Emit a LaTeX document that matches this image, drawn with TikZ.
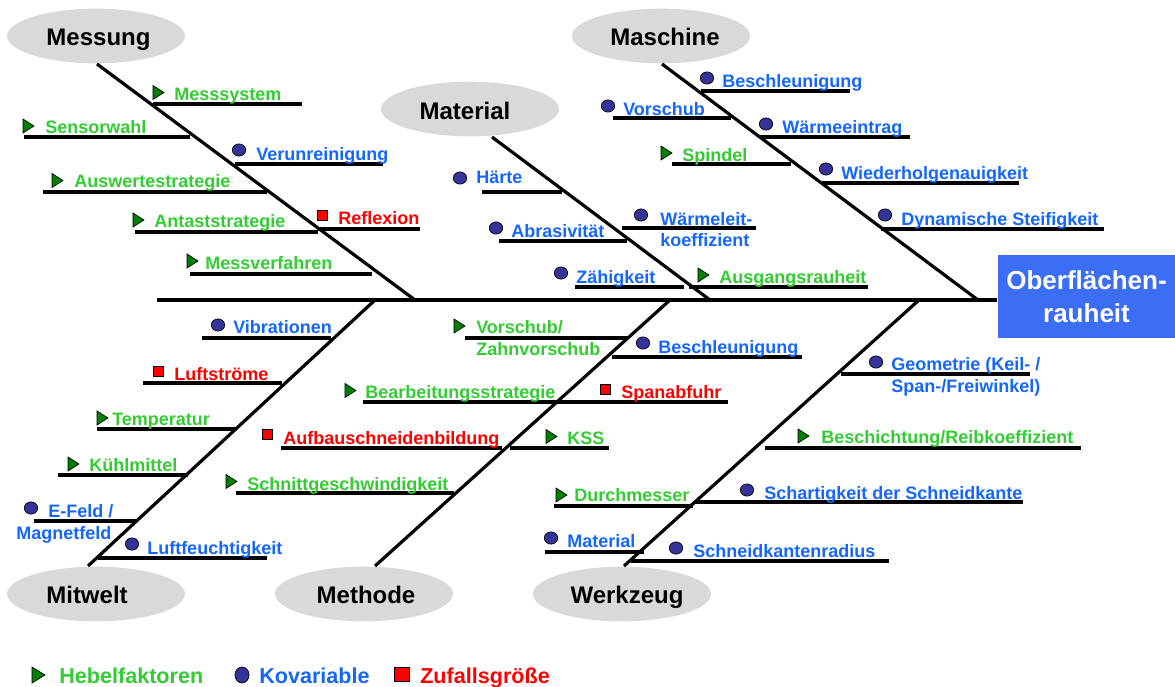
\documentclass[tikz,border=0pt]{standalone}
\usepackage{fontspec}
\setmainfont{Liberation Sans}
\usetikzlibrary{shapes.geometric}
\definecolor{gtext}{RGB}{51,204,51}
\definecolor{btext}{RGB}{20,102,255}
\definecolor{rtext}{RGB}{255,0,0}
\definecolor{trifill}{RGB}{0,128,0}
\definecolor{circfill}{RGB}{51,51,153}
\definecolor{ellfill}{RGB}{217,217,217}
\definecolor{boxfill}{RGB}{60,110,245}
\newcommand\mtri[2]{\draw[mark border,fill=trifill] (#1,#2-7) -- (#1+11,#2) -- (#1,#2+7) -- cycle;}
\newcommand\mcirc[2]{\draw[mark border,fill=circfill] (#1,#2) ellipse [x radius=5pt, y radius=4.6pt];}
\newcommand\msq[2]{\draw[mark border,fill=rtext] (#1,#2) rectangle ++(10,10);}
\tikzset{
  mark border/.style={draw=black,line width=0.5pt},
  bone/.style={draw=black,line width=2.4pt},
  ul/.style={draw=black,line width=2.4pt},
  lab/.style={font=\fontsize{13.5}{16}\selectfont\bfseries,inner sep=0pt,anchor=base west},
  gl/.style={lab,text=gtext},
  bl/.style={lab,text=btext},
  rl/.style={lab,text=rtext},
  ell/.style={ellipse,fill=ellfill,draw=none,minimum width=133.5pt,minimum height=41pt,inner sep=0pt},
  head/.style={font=\fontsize{18}{20}\selectfont\bfseries,inner sep=0pt,anchor=base},
  leg/.style={font=\fontsize{16.2}{18}\selectfont\bfseries,inner sep=0pt,anchor=base west},
}
\begin{document}
\begin{tikzpicture}[x=0.75pt,y=-0.75pt]
\useasboundingbox (0,0) rectangle (1175,686);
% ellipses
\node[ell] (e-mess) at (96,36) {};
\node[ell] (e-masch) at (661,36) {};
\node[ell] (e-mat) at (470,109) {};
\node[ell] (e-mit) at (96,594) {};
\node[ell] (e-meth) at (364,594) {};
\node[ell] (e-werk) at (622,594) {};
\node[head] (h-mess) at (98.5,45.5) {Messung};
\node[head] (h-masch) at (665,45.5) {Maschine};
\node[head] (h-mat) at (465,119) {Material};
\node[head] (h-mit) at (87,603) {Mitwelt};
\node[head] (h-meth) at (366,603) {Methode};
\node[head] (h-werk) at (627,603) {Werkzeug};
% target box
\node[rectangle,fill=boxfill,minimum width=133.5pt,minimum height=62.25pt,inner sep=0pt,
      text=white,align=center,font=\fontsize{19.5}{24.75}\selectfont\bfseries]
      (ziel) at (1086.5,296.5) {Oberflächen-\\rauheit};
% bones
\coordinate (tail) at (157,300);
\coordinate (mess-a) at (97,64);   \coordinate (mess-b) at (415,300);
\coordinate (mat-a) at (492,137);  \coordinate (mat-b) at (710,300);
\coordinate (masch-a) at (662,64); \coordinate (masch-b) at (978,300);
\coordinate (mit-a) at (375,300);  \coordinate (mit-b) at (88,566);
\coordinate (meth-a) at (670,300); \coordinate (meth-b) at (375,566);
\coordinate (werk-a) at (919,300); \coordinate (werk-b) at (624,566);
\draw[bone] (tail) -- (tail -| ziel.west);
\draw[bone] (mess-a) -- (mess-b);
\draw[bone] (mat-a) -- (mat-b);
\draw[bone] (masch-a) -- (masch-b);
\draw[bone] (mit-a) -- (mit-b);
\draw[bone] (meth-a) -- (meth-b);
\draw[bone] (werk-a) -- (werk-b);
% ---- Messung
\draw[ul] (153,104) -- (302,104); \mtri{153}{92.5} \node[gl] (l1) at (174,100.5) {Messsystem};
\draw[ul] (24,137) -- (190,137); \mtri{23}{126} \node[gl] (l2) at (45,133) {Sensorwahl};
\draw[ul] (235,164) -- (383,164); \mcirc{239}{150} \node[bl] (l3) at (256,160.5) {Verunreinigung};
\draw[ul] (43,192) -- (267,192); \mtri{52}{180.5} \node[gl] (l4) at (74,187.5) {Auswertestrategie};
\draw[ul] (135,232) -- (318,232); \mtri{133}{220} \node[gl] (l5) at (154,227.5) {Antaststrategie};
\draw[ul] (318,229) -- (420,229); \msq{317}{210} \node[rl] (l6) at (338,224.5) {Reflexion};
\draw[ul] (190,274) -- (372,274); \mtri{187}{261} \node[gl] (l7) at (205,269.5) {Messverfahren};
% ---- Material
\draw[ul] (482,192) -- (562,192); \mcirc{460}{178} \node[bl] (m1) at (476,183) {Härte};
\draw[ul] (499,241) -- (627,241); \mcirc{496}{228} \node[bl] (m2) at (511,237) {Abrasivität};
\draw[ul] (622,228) -- (756,228); \mcirc{641}{215} \node[bl] (m3) at (660,225) {Wärmeleit-};
\node[bl] (m3b) at (660,246) {koeffizient};
\draw[ul] (575,287) -- (684,287); \mcirc{561}{273} \node[bl] (m4) at (576,283) {Zähigkeit};
\draw[ul] (689,287) -- (868,287); \mtri{698}{275} \node[gl] (m5) at (719,283) {Ausgangsrauheit};
% ---- Maschine
\draw[ul] (701,91) -- (850,91); \mcirc{707}{78} \node[bl] (k1) at (722,87.5) {Beschleunigung};
\draw[ul] (613,118) -- (731,118); \mcirc{608}{106} \node[bl] (k2) at (623,115) {Vorschub};
\draw[ul] (760,137) -- (910,137); \mcirc{766}{124} \node[bl] (k3) at (782,133) {Wärmeeintrag};
\draw[ul] (672,164) -- (791,164); \mtri{661}{153} \node[gl] (k4) at (682,161) {Spindel};
\draw[ul] (821,183) -- (1019,183); \mcirc{826}{169} \node[bl] (k5) at (841,179) {Wiederholgenauigkeit};
\draw[ul] (881,229) -- (1104,229); \mcirc{885}{215} \node[bl] (k6) at (901,225) {Dynamische Steifigkeit};
% ---- Mitwelt
\draw[ul] (202,338) -- (331,338); \mcirc{218}{325} \node[bl] (w1) at (233,333.5) {Vibrationen};
\draw[ul] (143,383) -- (282,383); \msq{153}{366} \node[rl] (w2) at (174,380) {Luftströme};
\draw[ul] (97,429) -- (236,429); \mtri{97}{418} \node[gl] (w3) at (112,425.5) {Temperatur};
\draw[ul] (58,475) -- (188,475); \mtri{68}{464} \node[gl] (w4) at (89,471.5) {Kühlmittel};
\draw[ul] (34,521) -- (137,521); \mcirc{31}{508} \node[bl] (w5) at (48,517) {E-Feld /};
\node[bl] (w5b) at (16,539) {Magnetfeld};
\draw[ul] (98,558) -- (267,558); \mcirc{132}{544} \node[bl] (w6) at (147,554) {Luftfeuchtigkeit};
% ---- Methode
\draw[ul] (465,338) -- (628,338); \mtri{454}{326} \node[gl] (t1) at (476,333.5) {Vorschub/};
\node[gl] (t1b) at (476,355) {Zahnvorschub};
\draw[ul] (612,357) -- (802,357); \mcirc{643}{343} \node[bl] (t2) at (658,353) {Beschleunigung};
\draw[ul] (363,402) -- (560,402); \mtri{345}{390.5} \node[gl] (t3) at (365,398) {Bearbeitungsstrategie};
\draw[ul] (560,402) -- (728,402); \msq{600}{384} \node[rl] (t4) at (621,398) {Spanabfuhr};
\draw[ul] (281,448) -- (502,448); \msq{262}{429} \node[rl] (t5) at (283,444) {Aufbauschneidenbildung};
\draw[ul] (510,448) -- (609,448); \mtri{546}{436.5} \node[gl] (t6) at (567,444) {KSS};
\draw[ul] (236,493) -- (454,493); \mtri{226}{481.5} \node[gl] (t7) at (247,490) {Schnittgeschwindigkeit};
% ---- Werkzeug
\draw[ul] (841,374) -- (1030,374); \mcirc{876}{362} \node[bl] (z1) at (891,370) {Geometrie (Keil- /};
\node[bl] (z1b) at (891,392) {Span-/Freiwinkel)};
\draw[ul] (765,448) -- (1081,448); \mtri{798}{436} \node[gl] (z2) at (821,443.5) {Beschichtung/Reibkoeffizient};
\draw[ul] (554,506) -- (693,506); \mtri{556}{495} \node[gl] (z3) at (574,501) {Durchmesser};
\draw[ul] (695,502) -- (1023,502); \mcirc{747}{490} \node[bl] (z4) at (764,499) {Schartigkeit der Schneidkante};
\draw[ul] (545,552) -- (644,552); \mcirc{551}{538} \node[bl] (z5) at (567,547.5) {Material};
\draw[ul] (631,561) -- (889,561); \mcirc{676}{548} \node[bl] (z6) at (693,557) {Schneidkantenradius};
% ---- legend
\draw[mark border,fill=trifill] (32,667) -- (45,675) -- (32,683) -- cycle;
\node[leg,text=gtext] (lg1) at (59,683) {Hebelfaktoren};
\draw[mark border,fill=circfill] (242,675) ellipse [x radius=5.3pt, y radius=6pt];
\node[leg,text=btext] (lg2) at (259,683) {Kovariable};
\draw[mark border,fill=rtext] (394,667) rectangle (409,681);
\node[leg,text=rtext] (lg3) at (420,683) {Zufallsgröße};
\end{tikzpicture}
\end{document}
